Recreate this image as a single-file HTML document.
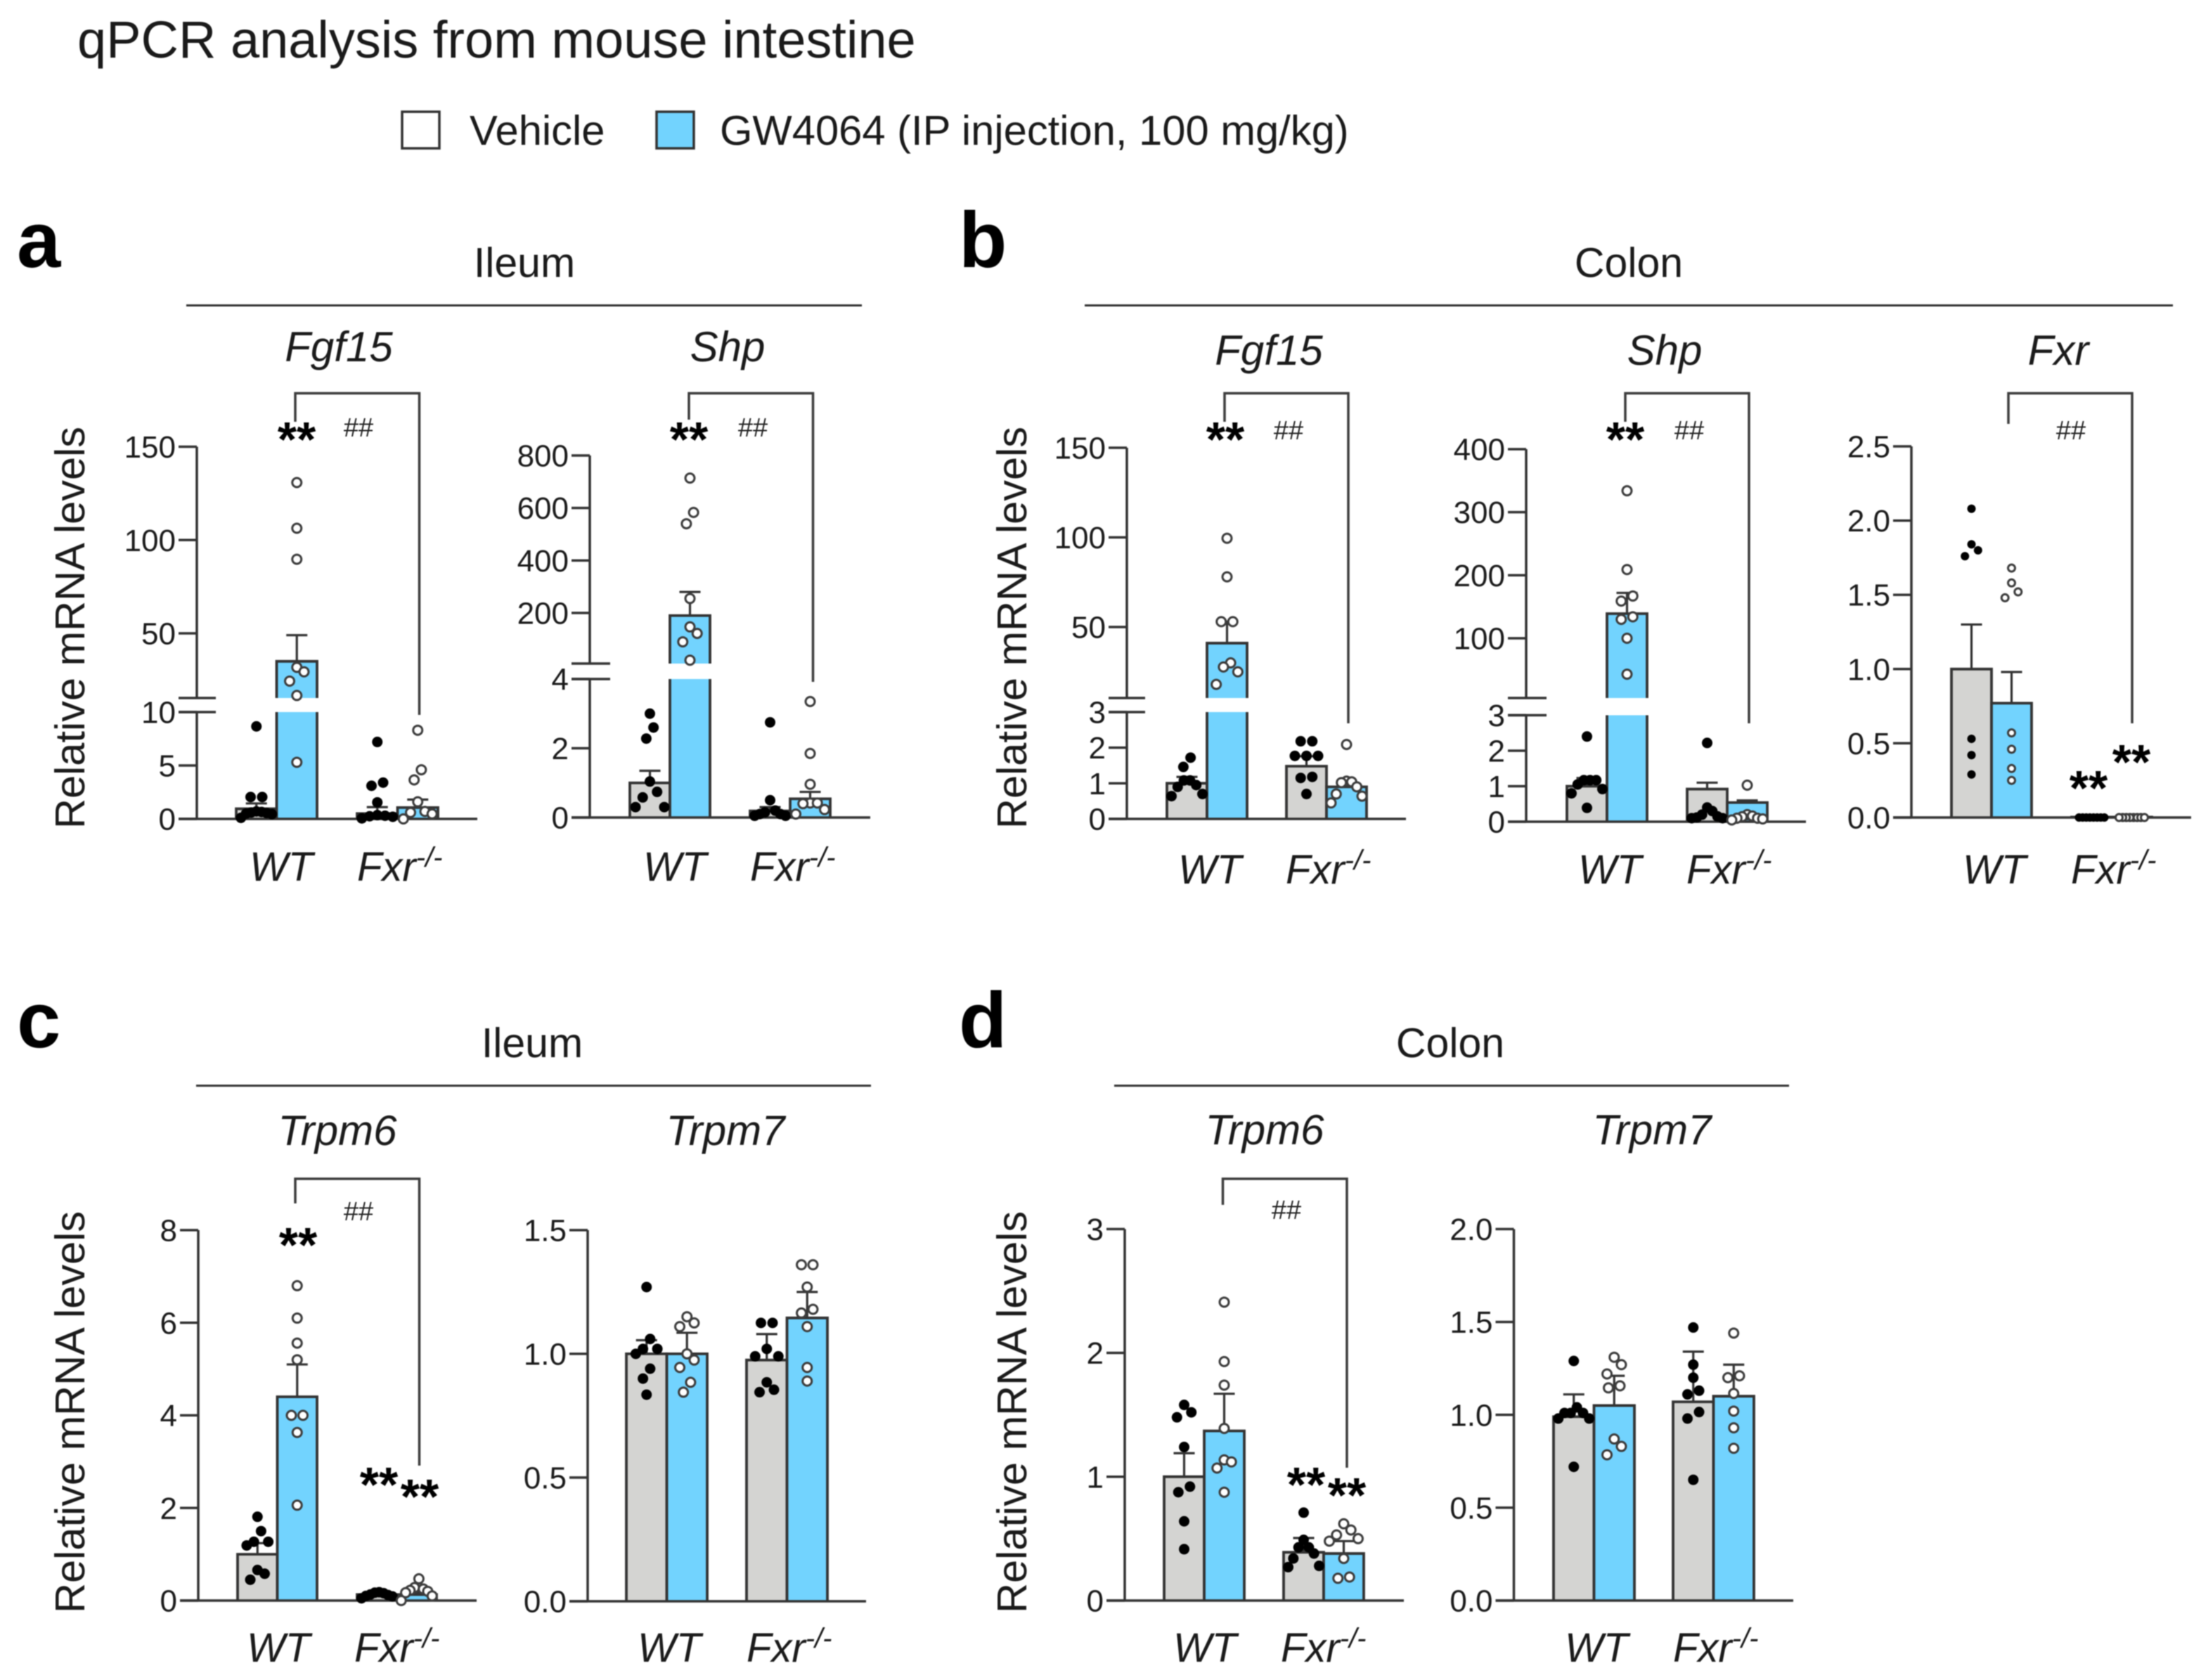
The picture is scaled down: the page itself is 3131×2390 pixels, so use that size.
<!DOCTYPE html>
<html lang="en">
<head>
<meta charset="utf-8">
<title>qPCR analysis from mouse intestine</title>
<style>
html,body{margin:0;padding:0;background:#fff;}
svg{display:block;filter:blur(.7px);}
text{font-family:"Liberation Sans",sans-serif;fill:#1a1a1a;}
.it{font-style:italic;}
.gene{font-size:60px;font-style:italic;text-anchor:middle;}
.sec{font-size:59px;text-anchor:middle;}
.ylab{font-size:59.5px;text-anchor:middle;}
.letter{font-size:112px;font-weight:bold;fill:#000;}
.star{font-size:70px;font-weight:bold;text-anchor:middle;fill:#000;}
.hash{font-size:38px;text-anchor:middle;fill:#222;}
.rule{stroke:#333;stroke-width:3;fill:none;}
.brk{stroke:#3c3c3c;stroke-width:3.5;fill:none;}
</style>
</head>
<body>
<svg id="fig" xmlns="http://www.w3.org/2000/svg" width="3131" height="2390" viewBox="0 0 3131 2390">
<rect width="3131" height="2390" fill="#fff"/>
<text x="110" y="82" font-size="74">qPCR analysis from mouse intestine</text>

<g>
<rect x="572" y="159" width="53" height="52" fill="#fff" stroke="#333" stroke-width="3.5"/>
<text x="668" y="206" font-size="59.7">Vehicle</text>
<rect x="934" y="159" width="53" height="52" fill="#72d3fe" stroke="#333" stroke-width="3.5"/>
<text x="1024" y="206" font-size="59.7">GW4064 (IP injection, 100 mg/kg)</text>
</g>

<text class="letter" x="24" y="380">a</text>
<text class="letter" x="1364" y="380">b</text>
<text class="letter" x="24" y="1490">c</text>
<text class="letter" x="1364" y="1490">d</text>

<text class="sec" x="746" y="394">Ileum</text>
<line class="rule" x1="265" y1="434.5" x2="1226" y2="434.5"/>
<text class="sec" x="2317" y="394">Colon</text>
<line class="rule" x1="1543" y1="434.5" x2="3091" y2="434.5"/>
<text class="sec" x="757" y="1504">Ileum</text>
<line class="rule" x1="279" y1="1544.5" x2="1239" y2="1544.5"/>
<text class="sec" x="2063" y="1504">Colon</text>
<line class="rule" x1="1585" y1="1544.5" x2="2545" y2="1544.5"/>

<text class="gene" x="482" y="514">Fgf15</text>
<text class="gene" x="1035" y="514">Shp</text>
<text class="gene" x="1805" y="519">Fgf15</text>
<text class="gene" x="2368" y="519">Shp</text>
<text class="gene" x="2928" y="519">Fxr</text>
<text class="gene" x="480" y="1629">Trpm6</text>
<text class="gene" x="1032" y="1629">Trpm7</text>
<text class="gene" x="1799" y="1628">Trpm6</text>
<text class="gene" x="2350" y="1628">Trpm7</text>

<text class="ylab" transform="translate(120 893) rotate(-90)">Relative mRNA levels</text>
<text class="ylab" transform="translate(1460 893) rotate(-90)">Relative mRNA levels</text>
<text class="ylab" transform="translate(120 2009) rotate(-90)">Relative mRNA levels</text>
<text class="ylab" transform="translate(1460 2009) rotate(-90)">Relative mRNA levels</text>

<g id="charts"></g>

<g>
<path class="brk" d="M420 600V559.5H596.5V1017"/>
<path class="brk" d="M980 597V559.5H1156.5V970"/>
<path class="brk" d="M1742 600V559.5H1918V1029"/>
<path class="brk" d="M2312 600V559.5H2488V1029"/>
<path class="brk" d="M2857 603V559.5H3033V1029"/>
<path class="brk" d="M420 1712V1677H596.5V2085"/>
<path class="brk" d="M1739.5 1714V1677H1916V2088"/>
</g>

<g>
<text class="star" x="422" y="649">**</text>
<text class="hash" x="510" y="621">##</text>
<text class="star" x="980" y="649">**</text>
<text class="hash" x="1071" y="621">##</text>
<text class="star" x="1743" y="649">**</text>
<text class="hash" x="1833" y="625">##</text>
<text class="star" x="2312" y="649">**</text>
<text class="hash" x="2403" y="625">##</text>
<text class="hash" x="2946" y="625">##</text>
<text class="star" x="2971" y="1145">**</text>
<text class="star" x="3032" y="1108">**</text>
<text class="star" x="424" y="1795">**</text>
<text class="hash" x="510" y="1736">##</text>
<text class="star" x="539" y="2136">**</text>
<text class="star" x="597" y="2153">**</text>
<text class="hash" x="1830" y="1734">##</text>
<text class="star" x="1858" y="2136">**</text>
<text class="star" x="1916" y="2151">**</text>
</g>
</svg>

<script>
// Shared categories and series
const categories = ['WT', 'Fxr-/-'];
const seriesNames = ['Vehicle', 'GW4064'];

// Each means / sem array is ordered: WT vehicle, WT GW4064, Fxr vehicle, Fxr GW4064
const aFgf15Ticks = ['0', '5', '10', '50', '100', '150'];
const aFgf15Means = [0.95, 35, 0.5, 1.06];
const aFgf15Sem = [0.5, 14, 0.6, 0.75];
const aFgf15Points = [
  [8.66, 2.05, 2.05, 0.7, 0.65, 0.6, 0.55, 0.5, 0.45, 0.1],
  [130.8, 106.3, 89.7, 31.8, 29.4, 24.4, 16.7, 5.3],
  [7.2, 3.4, 3.1, 1.55, 0.35, 0.3, 0.25, 0.2, 0.05],
  [8.3, 4.6, 3.65, 1.6, 0.7, 0.6, 0.47, 0]
];

const aShpTicks = ['0', '2', '4', '200', '400', '600', '800'];
const aShpMeans = [1.0, 190, 0.19, 0.54];
const aShpSem = [0.35, 90, 0.11, 0.2];
const aShpPoints = [
  [3.0, 2.6, 2.28, 1.04, 0.74, 0.58, 0.3, 0.3],
  [714, 583, 540, 255, 147, 122, 90, 20],
  [2.75, 0.5, 0.2, 0.15, 0.1, 0.1, 0.05, 0.05],
  [3.35, 1.85, 0.96, 0.42, 0.42, 0.4, 0.23, 0.1]
];

const bFgf15Ticks = ['0', '1', '2', '3', '50', '100', '150'];
const bFgf15Means = [1.0, 41, 1.48, 0.9];
const bFgf15Sem = [0.18, 12, 0.28, 0.13];
const bFgf15Points = [
  [1.72, 1.46, 1.08, 1.08, 0.95, 0.9, 0.7, 0.64],
  [99.5, 78, 53, 53, 30, 27.7, 25, 18],
  [2.18, 2.18, 1.77, 1.77, 1.77, 1.18, 1.15, 0.7],
  [2.09, 1.06, 1.04, 1.02, 0.9, 0.7, 0.64, 0.45]
];

const bShpTicks = ['0', '1', '2', '3', '100', '200', '300', '400'];
const bShpMeans = [1.0, 139, 0.92, 0.54];
const bShpSem = [0.23, 33, 0.18, 0.06];
const bShpPoints = [
  [2.4, 1.17, 1.17, 1.17, 1.05, 0.92, 0.8, 0.39],
  [334, 209, 167, 159, 134, 130, 100, 43],
  [2.22, 0.4, 0.3, 0.2, 0.15, 0.12, 0.1, 0.1],
  [1.03, 0.2, 0.16, 0.14, 0.1, 0.1, 0.08, 0.05]
];

const bFxrTicks = ['0.0', '0.5', '1.0', '1.5', '2.0', '2.5'];
const bFxrMeans = [1.0, 0.77, 0.003, 0.003];
const bFxrSem = [0.3, 0.21, 0.002, 0.002];
const bFxrPoints = [
  [2.08, 1.84, 1.8, 1.76, 0.53, 0.42, 0.29],
  [1.68, 1.58, 1.52, 1.48, 0.57, 0.46, 0.33, 0.25],
  [0, 0, 0, 0, 0, 0, 0, 0],
  [0, 0, 0, 0, 0, 0, 0, 0]
];

const cTrpm6Ticks = ['0', '2', '4', '6', '8'];
const cTrpm6Means = [1.0, 4.4, 0.13, 0.13];
const cTrpm6Sem = [0.24, 0.7, 0.02, 0.05];
const cTrpm6Points = [
  [1.81, 1.5, 1.27, 1.27, 1.19, 0.66, 0.58, 0.45],
  [6.8, 6.1, 5.56, 5.2, 4.0, 4.0, 3.63, 2.06],
  [0.18, 0.17, 0.16, 0.13, 0.12, 0.1, 0.09, 0.05],
  [0.47, 0.28, 0.25, 0.22, 0.2, 0.17, 0.1, 0]
];

const cTrpm7Ticks = ['0.0', '0.5', '1.0', '1.5'];
const cTrpm7Means = [1.0, 1.0, 0.975, 1.145];
const cTrpm7Sem = [0.055, 0.085, 0.105, 0.105];
const cTrpm7Points = [
  [1.27, 1.06, 1.02, 1.02, 1.0, 0.94, 0.9, 0.835],
  [1.15, 1.125, 1.11, 1.0, 0.975, 0.945, 0.885, 0.845],
  [1.125, 1.125, 1.02, 0.99, 0.99, 0.885, 0.855, 0.845],
  [1.36, 1.36, 1.27, 1.18, 1.165, 1.11, 0.945, 0.89]
];

const dTrpm6Ticks = ['0', '1', '2', '3'];
const dTrpm6Means = [1.0, 1.37, 0.39, 0.38];
const dTrpm6Sem = [0.19, 0.3, 0.115, 0.1];
const dTrpm6Points = [
  [1.58, 1.52, 1.48, 1.24, 0.92, 0.875, 0.64, 0.415],
  [2.41, 1.93, 1.74, 1.39, 1.136, 1.12, 1.07, 0.875],
  [0.71, 0.49, 0.43, 0.43, 0.38, 0.34, 0.28, 0.27],
  [0.62, 0.57, 0.53, 0.5, 0.48, 0.34, 0.19, 0.18]
];

const dTrpm7Ticks = ['0.0', '0.5', '1.0', '1.5', '2.0'];
const dTrpm7Means = [0.99, 1.05, 1.07, 1.1];
const dTrpm7Sem = [0.12, 0.16, 0.27, 0.17];
const dTrpm7Points = [
  [1.29, 1.04, 1.01, 1.01, 1.01, 0.98, 0.98, 0.72],
  [1.31, 1.27, 1.22, 1.156, 1.145, 0.87, 0.83, 0.785],
  [1.47, 1.27, 1.2, 1.13, 1.11, 1.015, 0.98, 0.65],
  [1.44, 1.21, 1.2, 1.115, 1.02, 0.93, 0.82]
];

const SVG_NS = 'http://www.w3.org/2000/svg';
const INK = '#333333';
const COLORS = ['#d4d4d2', '#72d3fe'];

function mk(tag, attrs, parent) {
  const el = document.createElementNS(SVG_NS, tag);
  for (const k in attrs) el.setAttribute(k, attrs[k]);
  parent.appendChild(el);
  return el;
}

// Piecewise y axis: low segment, optional high segment above an axis break
function makeYScale(c) {
  const lo = c.lo, hi = c.hi;
  const loF = v => lo.y0 + (v - lo.v0) * (lo.y1 - lo.y0) / (lo.v1 - lo.v0);
  if (!hi) return loF;
  const hiF = v => hi.y0 + (v - hi.v0) * (hi.y1 - hi.y0) / (hi.v1 - hi.v0);
  return v => (v <= lo.v1 ? loF(v) : hiF(v));
}

// Lay out sample points into rows, symmetric about the bar centre
function swarm(pxYs, opt) {
  const order = pxYs.map((y, i) => [y, i]).sort((a, b) => a[0] - b[0]);
  const offsets = new Array(pxYs.length).fill(0);
  let row = [];
  const flush = () => {
    if (!row.length) return;
    const n = row.length;
    const span = row[n - 1][0] - row[0][0];
    let gap = span > opt.r * 1.5 ? opt.gap * 0.62 : opt.gap;
    if (n > 1) gap = Math.min(gap, opt.maxWidth / (n - 1));
    const slots = [];
    for (let k = 0; k < n; k++) slots.push((k - (n - 1) / 2) * gap);
    slots.sort((a, b) => Math.abs(a) - Math.abs(b) || b - a);
    row.forEach((p, k) => { offsets[p[1]] = slots[k]; });
    row = [];
  };
  for (const p of order) {
    if (row.length) {
      const link = p[0] - row[row.length - 1][0];
      const total = p[0] - row[0][0];
      if (link > opt.bin || total > opt.span) flush();
    }
    row.push(p);
  }
  flush();
  return offsets;
}

function drawChart(c) {
  const root = document.getElementById('charts');
  const g = mk('g', {}, root);
  
  
  const y = makeYScale(c);
  const zero = y(0);
  const barW = c.barW;
  const barLeft = (gi, si) => c.barStart + gi * c.groupStep + si * barW;
  const r = c.r || 7.5;

  // Bars
  c.means.forEach((m, i) => {
    const gi = Math.floor(i / 2), si = i % 2;
    const L = barLeft(gi, si), R = L + barW;
    const top = y(m);
    const broken = c.hi && m > c.lo.v1;
    const fillD = broken
      ? 'M' + L + ' ' + zero + 'V' + y(c.lo.v1) + 'H' + R + 'V' + zero + 'Z' +
        'M' + L + ' ' + c.gapTop + 'V' + top + 'H' + R + 'V' + c.gapTop + 'Z'
      : 'M' + L + ' ' + zero + 'V' + top + 'H' + R + 'V' + zero + 'Z';
    const strokeD = broken
      ? 'M' + L + ' ' + zero + 'V' + y(c.lo.v1) + 'M' + R + ' ' + zero + 'V' + y(c.lo.v1) +
        'M' + L + ' ' + c.gapTop + 'V' + top + 'H' + R + 'V' + c.gapTop
      : 'M' + L + ' ' + zero + 'V' + top + 'H' + R + 'V' + zero;
    const fill = mk('path', { d: fillD, fill: COLORS[si] }, g);
    
    
    const edge = mk('path', { d: strokeD, fill: 'none', stroke: INK, 'stroke-width': 3.8 }, g);
    
    
  });

  // Y axis
  const axisD = c.hi
    ? 'M' + c.axisX + ' ' + zero + 'V' + y(c.lo.v1) + 'M' + c.axisX + ' ' + c.gapTop + 'V' + y(parseFloat(c.ticks[c.ticks.length - 1]))
    : 'M' + c.axisX + ' ' + zero + 'V' + y(parseFloat(c.ticks[c.ticks.length - 1]));
  const yAxis = mk('path', { d: axisD, fill: 'none', stroke: INK, 'stroke-width': 3.5 }, g);
  
  

  // Ticks and labels
  const tickLeft = c.axisX - 26;
  c.ticks.forEach(label => {
    const v = parseFloat(label);
    const ty = y(v);
    const tick = mk('line', { x1: tickLeft, x2: c.axisX, y1: ty, y2: ty, stroke: INK, 'stroke-width': 3.5 }, g);
    
    
    const t = mk('text', { x: tickLeft - 4, y: ty + 15.5, 'font-size': 44, 'text-anchor': 'end' }, g);
    t.textContent = label;
    
    
  });

  // Axis break marks
  if (c.hi) {
    [y(c.lo.v1), c.gapTop].forEach(by => {
      const b = mk('line', { x1: tickLeft, x2: c.axisX + c.breakExt, y1: by, y2: by, stroke: INK, 'stroke-width': 3.5 }, g);
      
      
    });
  }

  // X axis
  const xAxis = mk('line', { x1: tickLeft, x2: c.endX, y1: zero, y2: zero, stroke: INK, 'stroke-width': 3.5 }, g);
  
  

  // Category labels
  categories.forEach((cat, gi) => {
    const x0 = barLeft(gi, 0) + (gi === 0 ? c.wtDx : c.koDx);
    const t = mk('text', { x: x0, y: c.labelY, 'font-size': 58, 'font-style': 'italic' }, g);
    
    
    const parts = cat.split('-/-');
    const main = mk('tspan', {}, t);
    main.textContent = parts[0];
    if (parts.length > 1) {
      const sup = mk('tspan', { 'font-size': 40, dy: -20 }, t);
      sup.textContent = '-/-';
    }
  });

  // Error bars
  c.means.forEach((m, i) => {
    const gi = Math.floor(i / 2), si = i % 2;
    const cx = barLeft(gi, si) + barW / 2;
    const top = y(m), up = y(m + c.sem[i]);
    if (top - up < 1) return;
    const err = mk('path', {
      d: 'M' + cx + ' ' + top + 'V' + up + 'M' + (cx - 15) + ' ' + up + 'H' + (cx + 15),
      fill: 'none', stroke: INK, 'stroke-width': 3.2
    }, g);
    
    
  });

  // Sample points
  c.points.forEach((vals, i) => {
    const gi = Math.floor(i / 2), si = i % 2;
    const cx = barLeft(gi, si) + barW / 2;
    const ys = vals.map(y);
    const off = swarm(ys, { r: r, gap: c.gap || 16.5, bin: c.bin || 18, span: c.span || 40, maxWidth: c.maxWidth || 44 });
    vals.forEach((v, k) => {
      const attrs = si
        ? { cx: cx + off[k], cy: ys[k], r: r - 1, fill: '#fff', stroke: '#3c3c3c', 'stroke-width': 3 }
        : { cx: cx + off[k], cy: ys[k], r: r, fill: '#000' };
      const dot = mk('circle', attrs, g);
      
      
    });
  });
}

drawChart({ id: 'a-fgf15', ticks: aFgf15Ticks, means: aFgf15Means, sem: aFgf15Sem, points: aFgf15Points,
  axisX: 280, endX: 679, barStart: 336, barW: 57.5, groupStep: 172,
  lo: { v0: 0, y0: 1165, v1: 10, y1: 1013 }, hi: { v0: 50, y0: 901, v1: 150, y1: 635.5 }, gapTop: 993, breakExt: 27,
  labelY: 1253, wtDx: 19, koDx: 0 });

drawChart({ id: 'a-shp', ticks: aShpTicks, means: aShpMeans, sem: aShpSem, points: aShpPoints,
  axisX: 839, endX: 1238, barStart: 896, barW: 57, groupStep: 171,
  lo: { v0: 0, y0: 1163, v1: 4, y1: 966 }, hi: { v0: 200, y0: 872, v1: 800, y1: 648 }, gapTop: 944, breakExt: 29,
  labelY: 1253, wtDx: 19, koDx: 0 });

drawChart({ id: 'b-fgf15', ticks: bFgf15Ticks, means: bFgf15Means, sem: bFgf15Sem, points: bFgf15Points,
  axisX: 1603, endX: 2000, barStart: 1660, barW: 57, groupStep: 170,
  lo: { v0: 0, y0: 1165, v1: 3, y1: 1013 }, hi: { v0: 50, y0: 892, v1: 150, y1: 637 }, gapTop: 993, breakExt: 26,
  labelY: 1257, wtDx: 16, koDx: -1 });

drawChart({ id: 'b-shp', ticks: bShpTicks, means: bShpMeans, sem: bShpSem, points: bShpPoints,
  axisX: 2171, endX: 2569, barStart: 2229, barW: 57, groupStep: 171,
  lo: { v0: 0, y0: 1169, v1: 3, y1: 1017.5 }, hi: { v0: 100, y0: 908, v1: 400, y1: 639 }, gapTop: 993, breakExt: 29,
  labelY: 1257, wtDx: 16, koDx: -1 });

drawChart({ id: 'b-fxr', ticks: bFxrTicks, means: bFxrMeans, sem: bFxrSem, points: bFxrPoints,
  axisX: 2719, endX: 3117, barStart: 2776, barW: 57, groupStep: 171,
  lo: { v0: 0, y0: 1163, v1: 2.5, y1: 635 }, r: 6, maxWidth: 36, bin: 14, gap: 15,
  labelY: 1257, wtDx: 16, koDx: -1 });

drawChart({ id: 'c-trpm6', ticks: cTrpm6Ticks, means: cTrpm6Means, sem: cTrpm6Sem, points: cTrpm6Points,
  axisX: 282, endX: 678, barStart: 338, barW: 56.5, groupStep: 170,
  lo: { v0: 0, y0: 2277, v1: 8, y1: 1750 },
  labelY: 2364, wtDx: 13, koDx: -4 });

drawChart({ id: 'c-trpm7', ticks: cTrpm7Ticks, means: cTrpm7Means, sem: cTrpm7Sem, points: cTrpm7Points,
  axisX: 836, endX: 1232, barStart: 891, barW: 57.5, groupStep: 171,
  lo: { v0: 0, y0: 2278, v1: 1.5, y1: 1750 },
  labelY: 2364, wtDx: 16, koDx: 0 });

drawChart({ id: 'd-trpm6', ticks: dTrpm6Ticks, means: dTrpm6Means, sem: dTrpm6Sem, points: dTrpm6Points,
  axisX: 1600, endX: 1997, barStart: 1656, barW: 57, groupStep: 170,
  lo: { v0: 0, y0: 2277, v1: 3, y1: 1748.5 },
  labelY: 2364, wtDx: 13, koDx: -4 });

drawChart({ id: 'd-trpm7', ticks: dTrpm7Ticks, means: dTrpm7Means, sem: dTrpm7Sem, points: dTrpm7Points,
  axisX: 2153.5, endX: 2551, barStart: 2210, barW: 57.5, groupStep: 170,
  lo: { v0: 0, y0: 2277, v1: 2, y1: 1748.5 },
  labelY: 2364, wtDx: 16, koDx: 0 });
</script>
</body>
</html>
